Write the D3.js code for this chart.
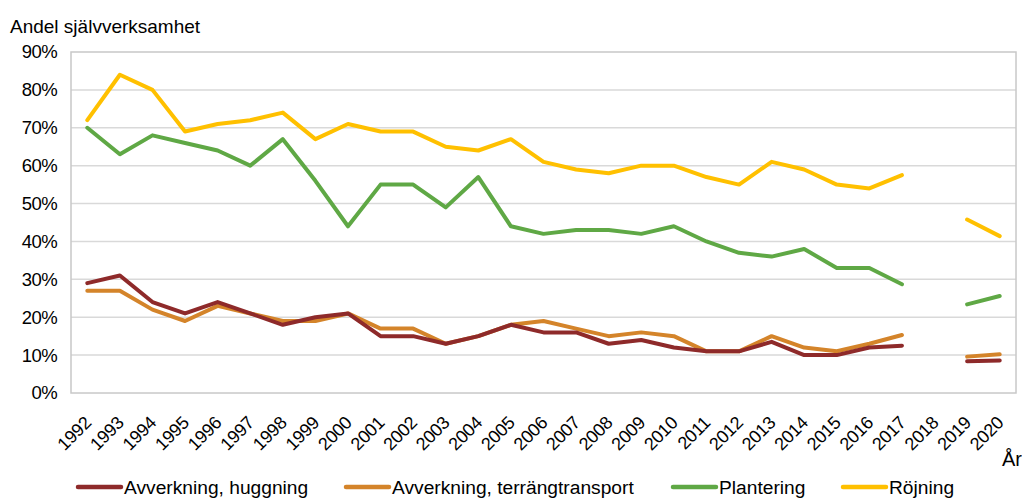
<!DOCTYPE html>
<html><head><meta charset="utf-8">
<script src="https://cdn.jsdelivr.net/npm/d3@7"></script>
<style>
html,body{margin:0;padding:0;background:#fff;}
text{font-family:"Liberation Sans",Arial,sans-serif;fill:#000;}
</style></head>
<body><svg id="c" width="1022" height="498"></svg>
<script>
const years = ["1992","1993","1994","1995","1996","1997","1998","1999","2000","2001","2002","2003","2004","2005","2006","2007","2008","2009","2010","2011","2012","2013","2014","2015","2016","2017","2018","2019","2020"];
const huggning = [29,31,24,21,24,21,18,20,21,15,15,13,15,18,16,16,13,14,12,11,11,13.5,10,10,12,12.5,null,8.4,8.6];
const terrang = [27,27,22,19,23,21,19,19,21,17,17,13,15,18,19,17,15,16,15,11,11,15,12,11,13,15.3,null,9.6,10.2];
const plantering = [70,63,68,66,64,60,67,56,44,55,55,49,57,44,42,43,43,42,44,40,37,36,38,33,33,28.7,null,23.4,25.6];
const rojning = [72,84,80,69,71,72,74,67,71,69,69,65,64,67,61,59,58,60,60,57,55,61,59,55,54,57.5,null,45.8,41.4];
const seriesNames = ["Avverkning, huggning","Avverkning, terrängtransport","Plantering","Röjning"];
const seriesColors = ["#8E2A2A","#D4842A","#5FA845","#FFC000"];
const yTicks = [0,10,20,30,40,50,60,70,80,90];

const svg = d3.select("#c");
const L=71, R=1016, T=52, B=393;
const x = d3.scaleBand().domain(years).range([L,R]);
const y = d3.scaleLinear().domain([0,90]).range([B,T]);

// gridlines
svg.append("g").selectAll("line").data(yTicks.slice(1,-1)).join("line")
  .attr("x1",L).attr("x2",R).attr("y1",d=>y(d)).attr("y2",d=>y(d))
  .attr("stroke","#d9d9d9").attr("stroke-width",1.5);
// frame
svg.append("rect").attr("x",L).attr("y",T).attr("width",R-L).attr("height",B-T)
  .attr("fill","none").attr("stroke","#c8c8c8").attr("stroke-width",1.5);

// y axis
const ya = svg.append("g").attr("transform",`translate(${L},0)`)
  .call(d3.axisLeft(y).tickValues(yTicks).tickFormat(d=>d+"%").tickSize(0).tickPadding(14));
ya.select(".domain").remove();
ya.selectAll("text").style("font-size","18.5px").attr("font-family","Liberation Sans, Arial, sans-serif").attr("fill","#000").attr("letter-spacing","-0.6");

// x axis
const xa = svg.append("g").attr("transform",`translate(0,${B})`)
  .call(d3.axisBottom(x).tickSize(0));
xa.select(".domain").remove();
xa.selectAll("text")
  .attr("font-family","Liberation Sans, Arial, sans-serif").style("font-size","18px").attr("fill","#000")
  .attr("text-anchor","end").attr("dy",null).attr("y",0)
  .attr("transform","translate(5,31) rotate(-45)").attr("letter-spacing","-0.3");

// lines
const allSeries=[huggning,terrang,plantering,rojning];
const line = d3.line().defined(d=>d.v!=null).x(d=>x(d.k)+x.bandwidth()/2).y(d=>y(d.v));
[3,2,1,0].forEach(i=>{
  const data = years.map((k,j)=>({k, v: allSeries[i][j]}));
  svg.append("path").datum(data).attr("d",line).attr("fill","none")
    .attr("stroke",seriesColors[i]).attr("stroke-width",4).attr("stroke-linejoin","round").attr("stroke-linecap","round");
});

// titles
svg.append("text").attr("x",10).attr("y",33).style("font-size","19px").text("Andel självverksamhet");
svg.append("text").attr("x",1002).attr("y",466).style("font-size","20px").text("År");

// legend
const legX=[77,345,672,842];
seriesNames.forEach((n,i)=>{
  const g=svg.append("g").attr("transform",`translate(${legX[i]},487)`);
  g.append("line").attr("x1",1).attr("x2",44).attr("stroke",seriesColors[i]).attr("stroke-width",4.5).attr("stroke-linecap","round");
  g.append("text").attr("x",47).attr("y",7).style("font-size","19.2px").text(n);
});
</script></body></html>
